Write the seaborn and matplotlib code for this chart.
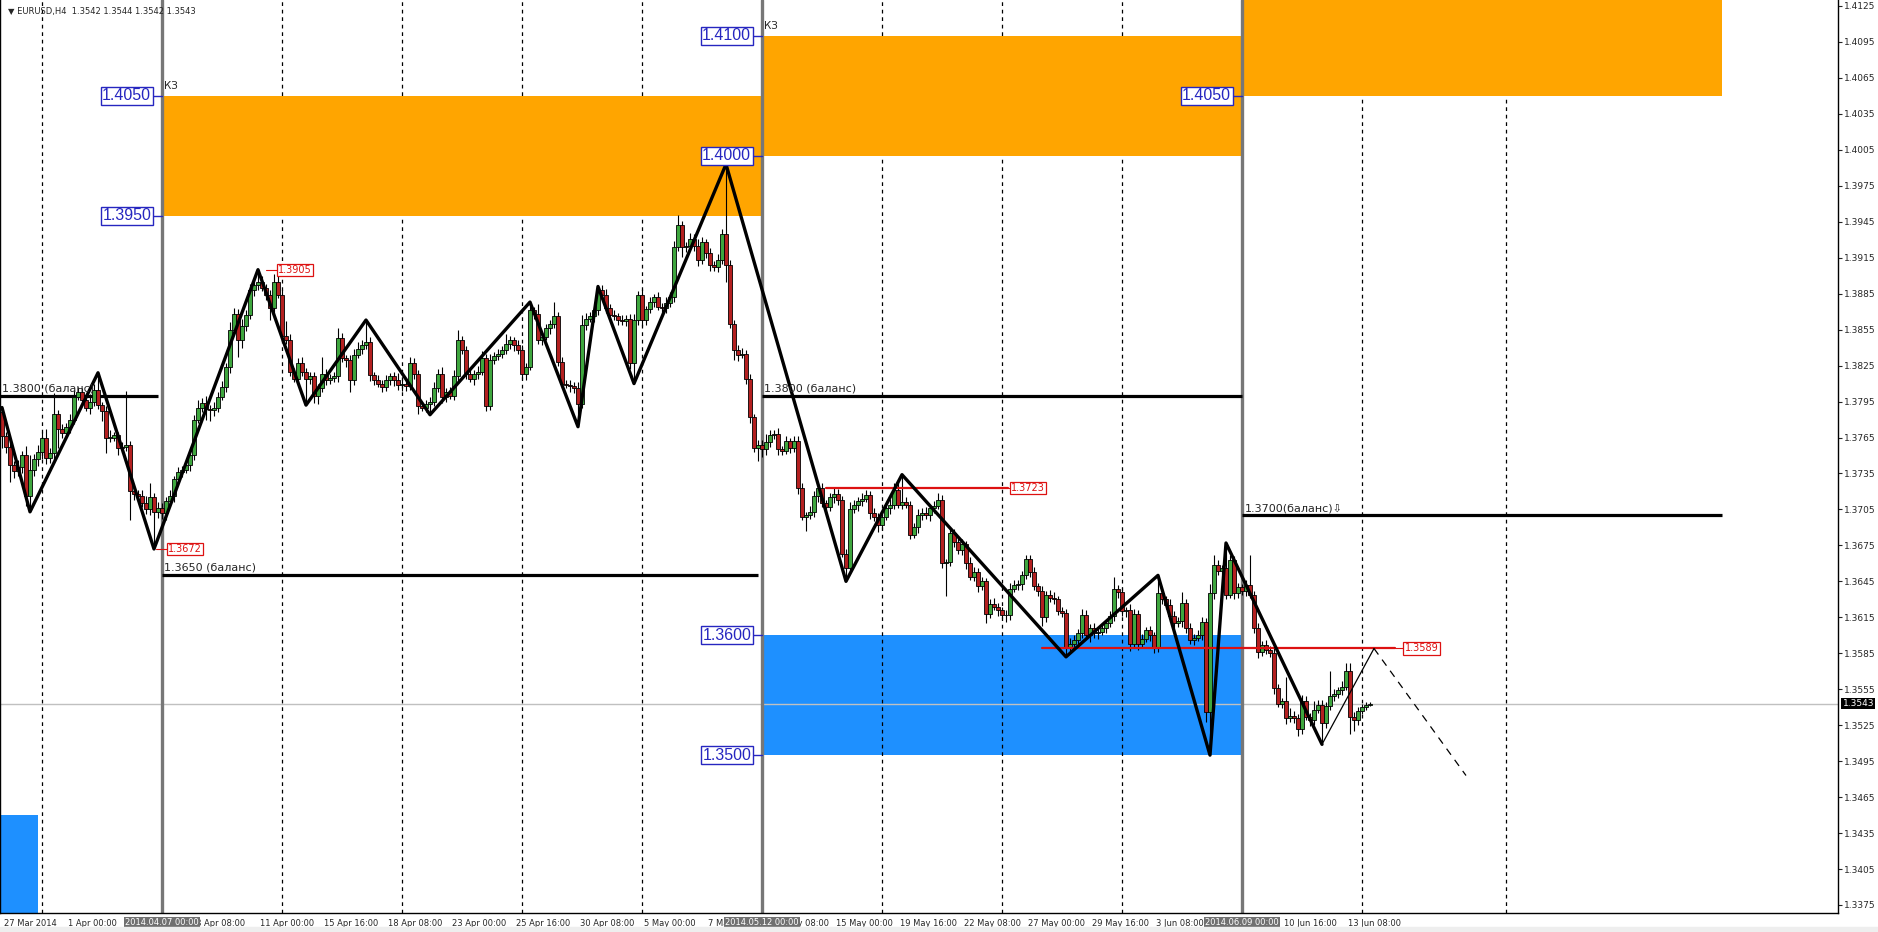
import numpy as np
import pandas as pd
import matplotlib
matplotlib.use('Agg')
import matplotlib.pyplot as plt
from matplotlib import transforms
from matplotlib.patches import Rectangle
import seaborn as sns

sns.set_style('white')
plt.rcParams['font.family'] = ['DejaVu Sans']

# EURUSD H4, prices in pips above 1.3000, bar 0 = 27 Mar 2014 08:00
first_open = 786
closes = [
    766, 757, 742, 737, 740, 750, 716, 738, 747, 753,
    765, 748, 752, 785, 772, 769, 774, 780, 799, 803,
    796, 790, 795, 805, 792, 787, 765, 765, 767, 756,
    757, 759, 720, 718, 716, 710, 705, 715, 703, 706,
    702, 712, 716, 730, 736, 738, 742, 750, 780, 790,
    794, 789, 788, 790, 799, 807, 824, 855, 868, 846,
    858, 867, 888, 892, 895, 890, 884, 873, 895, 884,
    850, 846, 820, 814, 827, 820, 814, 816, 800, 806,
    818, 813, 815, 816, 848, 831, 830, 813, 834, 839,
    842, 845, 817, 813, 810, 807, 813, 816, 813, 809,
    810, 808, 827, 818, 791, 790, 793, 795, 806, 818,
    799, 803, 800, 816, 846, 838, 818, 814, 818, 820,
    831, 791, 830, 833, 835, 838, 843, 846, 842, 838,
    818, 824, 871, 868, 846, 849, 856, 860, 866, 828,
    810, 809, 808, 806, 793, 859, 864, 866, 871, 888,
    884, 873, 867, 866, 863, 862, 864, 827, 863, 884,
    863, 872, 878, 882, 874, 873, 877, 882, 924, 942,
    924, 925, 931, 925, 913, 928, 919, 909, 907, 913,
    935, 909, 860, 838, 834, 835, 814, 782, 756, 759,
    755, 761, 767, 768, 755, 754, 762, 756, 762, 723,
    699, 700, 703, 716, 723, 710, 707, 715, 718, 713,
    668, 656, 705, 709, 712, 714, 717, 702, 699, 692,
    699, 706, 709, 721, 709, 711, 709, 684, 690, 700,
    702, 700, 706, 708, 713, 660, 661, 685, 678, 671,
    676, 660, 649, 653, 641, 645, 618, 626, 624, 621,
    617, 617, 639, 642, 643, 650, 664, 653, 641, 637,
    615, 634, 631, 630, 620, 619, 589, 593, 596, 602,
    617, 600, 606, 602, 603, 606, 610, 616, 639, 636,
    620, 621, 593, 618, 593, 597, 604, 600, 589, 635,
    630, 625, 616, 610, 612, 627, 606, 596, 598, 600,
    611, 536, 635, 659, 654, 656, 634, 663, 635, 640,
    637, 642, 634, 606, 586, 592, 588, 585, 556, 543,
    545, 531, 533, 531, 522, 545, 532, 529, 538, 542,
    527, 541, 549, 551, 554, 557, 570, 532, 529, 537,
    540, 542, 543,
]
upper_wicks = [
    4, 4, 5, 3, 6, 4, 8, 12, 4, 6,
    5, 7, 4, 17, 3, 4, 3, 5, 6, 4,
    3, 4, 6, 5, 14, 3, 4, 6, 3, 3,
    4, 45, 3, 4, 3, 5, 6, 12, 4, 5,
    4, 3, 5, 3, 4, 3, 4, 5, 4, 6,
    4, 6, 3, 5, 4, 5, 3, 6, 5, 4,
    6, 4, 5, 4, 10, 5, 3, 4, 6, 8,
    4, 12, 5, 3, 4, 5, 3, 4, 4, 4,
    14, 4, 3, 4, 8, 4, 3, 4, 5, 6,
    4, 18, 4, 3, 4, 3, 4, 3, 4, 6,
    5, 4, 5, 4, 3, 4, 3, 4, 5, 4,
    6, 3, 4, 5, 9, 4, 3, 5, 3, 5,
    6, 4, 5, 3, 4, 3, 8, 4, 3, 4,
    4, 3, 7, 3, 8, 3, 4, 3, 12, 4,
    4, 3, 4, 3, 5, 8, 5, 4, 3, 3,
    4, 5, 3, 4, 3, 4, 3, 4, 5, 3,
    5, 3, 4, 3, 4, 3, 5, 4, 5, 9,
    4, 3, 5, 4, 6, 4, 3, 4, 3, 5,
    4, 58, 4, 3, 4, 5, 3, 4, 3, 4,
    4, 7, 4, 3, 5, 3, 4, 3, 4, 4,
    4, 3, 5, 4, 3, 4, 3, 4, 5, 4,
    3, 4, 6, 4, 3, 5, 4, 3, 4, 3,
    4, 3, 5, 6, 8, 23, 4, 3, 4, 5,
    4, 5, 3, 4, 6, 4, 3, 5, 4, 3,
    4, 3, 5, 4, 3, 4, 3, 4, 5, 3,
    3, 4, 5, 4, 3, 4, 3, 3, 4, 3,
    4, 3, 4, 5, 3, 4, 3, 5, 4, 3,
    5, 4, 3, 4, 3, 4, 3, 4, 10, 3,
    4, 3, 5, 4, 3, 4, 3, 4, 3, 15,
    4, 3, 5, 4, 3, 9, 3, 4, 3, 4,
    4, 3, 8, 8, 4, 3, 21, 4, 3, 4,
    3, 4, 25, 3, 4, 3, 4, 3, 4, 3,
    3, 20, 6, 4, 3, 5, 4, 3, 7, 4,
    4, 3, 21, 4, 3, 5, 7, 7, 4, 3,
    3, 2, 1,
]
lower_wicks = [
    10, 5, 14, 6, 4, 5, 8, 13, 5, 6,
    6, 5, 4, 5, 16, 4, 3, 5, 4, 3,
    4, 3, 5, 4, 3, 8, 13, 4, 3, 6,
    4, 3, 24, 5, 4, 3, 4, 5, 31, 5,
    5, 6, 4, 5, 3, 4, 3, 5, 4, 3,
    4, 9, 9, 5, 4, 3, 4, 5, 4, 14,
    6, 4, 3, 5, 4, 3, 4, 10, 5, 3,
    5, 3, 4, 3, 5, 4, 22, 4, 6, 7,
    3, 4, 3, 4, 5, 3, 6, 10, 4, 3,
    4, 3, 5, 4, 3, 4, 3, 4, 5, 4,
    5, 4, 3, 4, 6, 3, 4, 9, 4, 3,
    5, 4, 3, 4, 5, 3, 4, 3, 5, 4,
    3, 4, 3, 4, 3, 4, 3, 4, 5, 3,
    4, 5, 3, 4, 3, 4, 3, 5, 4, 3,
    4, 3, 5, 4, 19, 3, 4, 3, 5, 4,
    3, 4, 5, 3, 4, 3, 4, 5, 17, 4,
    5, 4, 3, 4, 3, 5, 4, 3, 4, 3,
    8, 4, 3, 4, 5, 3, 4, 5, 3, 4,
    3, 14, 4, 8, 5, 3, 4, 5, 3, 11,
    6, 5, 4, 3, 5, 4, 3, 4, 3, 5,
    3, 12, 3, 4, 5, 3, 4, 3, 5, 4,
    3, 11, 4, 3, 5, 4, 3, 5, 4, 6,
    4, 3, 5, 4, 3, 4, 3, 4, 3, 5,
    4, 3, 5, 4, 3, 4, 27, 3, 4, 3,
    4, 5, 3, 4, 5, 3, 8, 4, 3, 5,
    3, 6, 4, 3, 4, 5, 3, 4, 3, 4,
    7, 4, 3, 4, 3, 4, 7, 3, 4, 3,
    4, 3, 6, 4, 5, 3, 4, 3, 4, 5,
    4, 5, 6, 4, 5, 4, 3, 5, 4, 3,
    4, 3, 5, 4, 3, 5, 4, 3, 4, 3,
    4, 8, 36, 5, 4, 3, 4, 3, 5, 4,
    3, 4, 3, 4, 5, 3, 4, 3, 5, 3,
    4, 5, 3, 4, 6, 4, 3, 5, 4, 3,
    18, 4, 3, 4, 3, 4, 3, 14, 9, 4,
    3, 2, 1,
]

# zigzag turning points (bar, pips)
zigzag_bars = [0, 7, 24, 38, 64, 76, 91, 107, 132, 144, 149, 158,
               181, 211, 225, 266, 289, 302, 306, 330]
zigzag_pips = [790, 703, 819, 672, 905, 792, 863, 784, 878, 774, 891, 810,
               993, 645, 734, 582, 650, 500, 677, 509]
# projected leg after the last turn
proj_bars = [330, 343, 366]
proj_pips = [509, 589, 483]

# zones
zone_start = [40, 190, 310, 190, -1]
zone_end = [190, 310, 430, 310, 9]
zone_low = [1.3950, 1.4000, 1.4050, 1.3500, 1.3350]
zone_high = [1.4050, 1.4100, 1.4150, 1.3600, 1.3450]
zone_kind = ['sell', 'sell', 'sell', 'buy', 'buy']
edge_label_bars = [40, 40, 190, 190, 310, 190, 190]
edge_label_prices = [1.4050, 1.3950, 1.4100, 1.4000, 1.4050, 1.3600, 1.3500]
kz_bars = [40, 190]
kz_prices = [1.4050, 1.4100]

# balance levels
balance_start = [-0.5, 40, 190, 310]
balance_end = [39, 189, 310, 430]
balance_price = [1.3800, 1.3650, 1.3800, 1.3700]
balance_text = ['1.3800 (баланс)', '1.3650 (баланс)', '1.3800 (баланс)', '1.3700(баланс)⇩']

# red levels
red_start = [206, 260]
red_end = [251.5, 348.25]
red_price = [1.3723, 1.3589]
red_gap = [0.6, 2.2]
# red marks at zigzag extremes
mark_bars = [66, 38.5]
mark_price = [1.3905, 1.3672]

separator_bars = [40, 190, 310]
separator_labels = ['2014.04.07 00:00', '2014.05.12 00:00', '2014.06.09 00:00']
grid_bars = [10, 70, 100, 130, 160, 220, 250, 280, 340, 376]

# labels under the highlighted separators are hidden in the chart
x_tick_bars = [0, 16, 32, 48, 64, 80, 96, 112, 128, 144, 160, 176, 192, 208,
               224, 240, 256, 272, 288, 304, 320, 336]
x_tick_labels = ['27 Mar 2014', '1 Apr 00:00', '', '8 Apr 08:00', '11 Apr 00:00',
                 '15 Apr 16:00', '18 Apr 08:00', '23 Apr 00:00', '25 Apr 16:00', '30 Apr 08:00',
                 '5 May 00:00', '7 May 16:00', '12 May 08:00', '15 May 00:00', '19 May 16:00',
                 '22 May 08:00', '27 May 00:00', '29 May 16:00', '3 Jun 08:00', '',
                 '10 Jun 16:00', '13 Jun 08:00']
y_ticks = [1.3375, 1.3405, 1.3435, 1.3465, 1.3495, 1.3525, 1.3555, 1.3585, 1.3615,
           1.3645, 1.3675, 1.3705, 1.3735, 1.3765, 1.3795, 1.3825, 1.3855, 1.3885,
           1.3915, 1.3945, 1.3975, 1.4005, 1.4035, 1.4065, 1.4095, 1.4125]
last_price = 1.3543
title = '▼ EURUSD,H4  1.3542 1.3544 1.3542 1.3543'


def to_price(pips):
    return 1.3 + np.asarray(pips, dtype=float) / 10000


df = pd.DataFrame({'close': closes, 'up': upper_wicks, 'down': lower_wicks})
df['bar'] = np.arange(len(df))
df['open'] = [first_open] + closes[:-1]
df['high'] = df[['open', 'close']].max(axis=1) + df['up']
df['low'] = df[['open', 'close']].min(axis=1) - df['down']
for col in ['open', 'close', 'high', 'low']:
    df[col] = to_price(df[col])

BLUE_TXT = '#2626c0'
RED = '#dd1111'
BULL = '#3ea63e'
BEAR = '#b42020'

fig = plt.figure(figsize=(18.78, 9.32), dpi=100)
fig.patch.set_facecolor('white')
ax = fig.add_axes([0, 19 / 932, 1838 / 1878, 913 / 932])
ax.set_facecolor('white')
ax.set_xlim(-0.5, 459)
ax.set_ylim(1.33683, 1.41300)

# zones
for s, e, lo, hi, kind in zip(zone_start, zone_end, zone_low, zone_high, zone_kind):
    if kind == 'sell':
        ax.fill_between([s, e], lo, hi, color='#ffa500', lw=0, zorder=1.4)
    else:
        ax.fill_between([s, e], lo, hi, color='#1e90ff', lw=0, zorder=1.0)

for b in grid_bars:
    ax.axvline(b, color='black', lw=0.9, ls=(0, (3, 3)), zorder=1.2)

ax.axhline(last_price, color='#c0c0c0', lw=1, zorder=1.5)

for b in separator_bars:
    ax.axvline(b, color='#777777', lw=2.4, zorder=1.6)

for s, e, p, t in zip(balance_start, balance_end, balance_price, balance_text):
    ax.plot([s, e], [p, p], color='black', lw=2.3, zorder=1.7, solid_capstyle='butt')
    ax.text(s + 0.6, p + 0.0002, t, fontsize=8, va='bottom', ha='left',
            family=['DejaVu Sans'], zorder=4)

# candles
ax.vlines(df['bar'], df['low'], df['high'], color='black', lw=0.8, zorder=2)
height = (df['close'] - df['open']).where(df['close'] != df['open'], 0.00002)
colors = np.where(df['close'] >= df['open'], BULL, BEAR)
ax.bar(df['bar'], height, bottom=df['open'], width=0.8, color=colors,
       edgecolor='black', linewidth=0.6, zorder=2.1)

# red levels and marks
for s, e, p, g in zip(red_start, red_end, red_price, red_gap):
    ax.plot([s, e], [p, p], color=RED, lw=1.6, zorder=2.5)
    ax.plot([e, e + g], [p, p], color=RED, lw=0.8, zorder=2.5)
    ax.text(e + g + 0.2, p, f'{p:.4f}', fontsize=7, color=RED, va='center', ha='left', zorder=4,
            bbox=dict(boxstyle='square,pad=0.12', fc='white', ec=RED, lw=0.9))
for b, p in zip(mark_bars, mark_price):
    ax.plot([b, b + 2.8], [p, p], color=RED, lw=0.8, zorder=2.5)
    ax.text(b + 3.0, p, f'{p:.4f}', fontsize=7, color=RED, va='center', ha='left', zorder=4,
            bbox=dict(boxstyle='square,pad=0.12', fc='white', ec=RED, lw=0.9))

# zigzag
sns.lineplot(x=zigzag_bars, y=to_price(zigzag_pips), ax=ax, color='black', lw=2.4,
             sort=False, estimator=None, zorder=3)
ax.plot(proj_bars[:2], to_price(proj_pips[:2]), color='black', lw=0.9, zorder=3)
ax.plot(proj_bars[1:], to_price(proj_pips[1:]), color='black', lw=0.9,
        ls=(0, (6, 5)), zorder=3)

# zone edge labels
for b, p in zip(edge_label_bars, edge_label_prices):
    ax.plot([b - 2.6, b], [p, p], color=BLUE_TXT, lw=1, zorder=3.5)
    ax.text(b - 2.7, p, f'{p:.4f}', fontsize=11.5, color=BLUE_TXT, va='center', ha='right',
            family=['Liberation Sans'], zorder=4,
            bbox=dict(boxstyle='square,pad=0.1', fc='white', ec=BLUE_TXT, lw=1))
for b, p in zip(kz_bars, kz_prices):
    ax.text(b + 0.6, p + 0.0004, 'КЗ', fontsize=7.5, va='bottom', ha='left', zorder=4)

# axes styling
for side in ['left', 'bottom', 'right']:
    ax.spines[side].set_visible(True)
    ax.spines[side].set_color('black')
    ax.spines[side].set_linewidth(1)
ax.spines['top'].set_visible(False)

ax.yaxis.tick_right()
ax.set_yticks(y_ticks)
ax.set_yticklabels([f'{v:.4f}' for v in y_ticks])
ax.tick_params(axis='y', direction='out', length=3, width=0.8, pad=1.5, labelsize=6.5)
ax.set_xticks(x_tick_bars)
ax.set_xticklabels(x_tick_labels)
ax.tick_params(axis='x', direction='out', length=3, width=0.8, pad=1.2, labelsize=6)
shift = transforms.ScaledTranslation(1.5 / 72, 0, fig.dpi_scale_trans)
for lab in ax.get_xticklabels():
    lab.set_ha('left')
    lab.set_transform(lab.get_transform() + shift)

xtrans = transforms.blended_transform_factory(ax.transData, ax.transAxes)
for b, t in zip(separator_bars, separator_labels):
    ax.text(b, -0.0055, t, transform=xtrans, fontsize=6, color='white', ha='center', va='top',
            clip_on=False, zorder=6,
            bbox=dict(boxstyle='square,pad=0.15', fc='#707070', ec='none'))

ytrans = transforms.blended_transform_factory(ax.transAxes, ax.transData)
ax.text(1.0025, last_price, f'{last_price:.4f}', transform=ytrans, fontsize=6.5, color='white',
        ha='left', va='center', clip_on=False, zorder=6,
        bbox=dict(boxstyle='square,pad=0.15', fc='black', ec='none'))

fig.text(0.004, 0.9925, title, fontsize=6, va='top', ha='left')
fig.patches.append(Rectangle((0, 0), 1, 0.005, transform=fig.transFigure,
                             color='#eeeeee', zorder=0))

fig.savefig('out.png', dpi=100)
